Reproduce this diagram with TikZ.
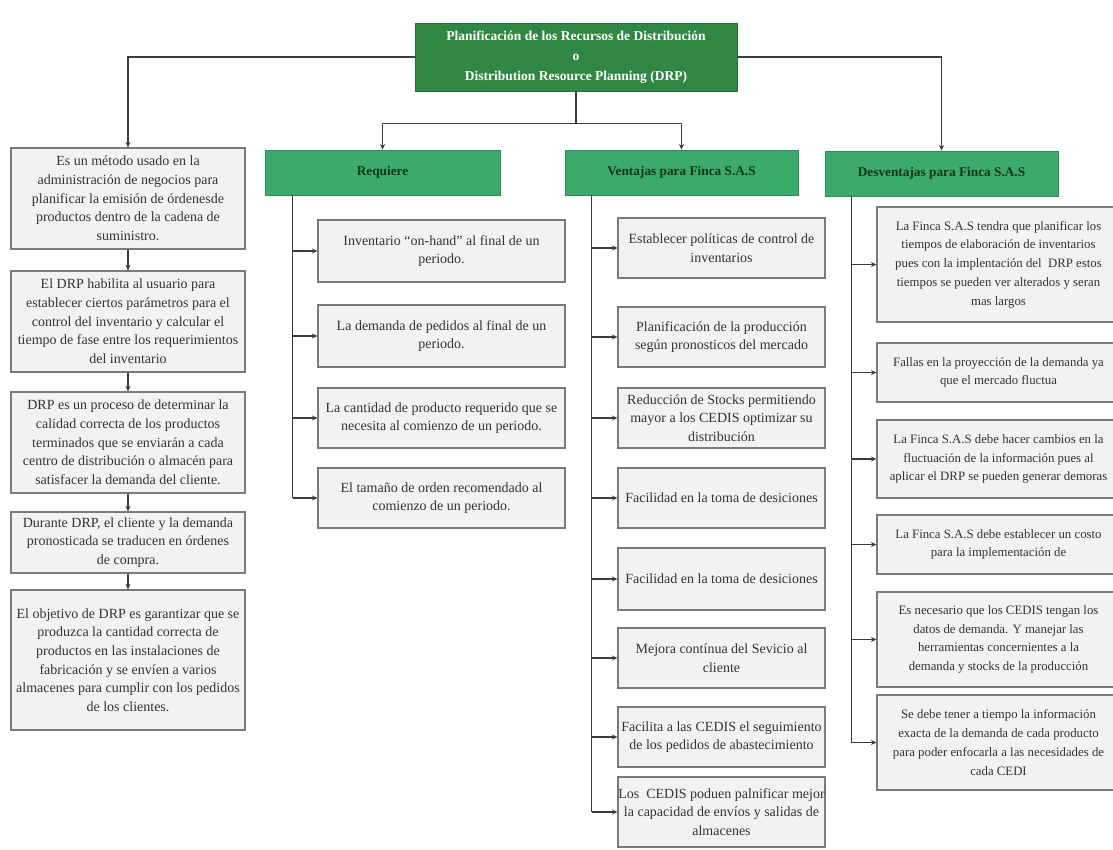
\documentclass[tikz,border=0pt]{standalone}
\usepackage{fontspec}
\setmainfont{Liberation Serif}
\usetikzlibrary{arrows.meta,calc}
\definecolor{rootgreen}{HTML}{2F8743}
\definecolor{headgreen}{HTML}{3BAA6B}
\definecolor{headtext}{HTML}{14361A}
\definecolor{boxfill}{HTML}{F2F2F2}
\definecolor{boxline}{HTML}{7A7A7A}
\definecolor{linecol}{HTML}{3C3C3C}
\definecolor{txt}{HTML}{333333}
\newcommand\pbox[7]{\node[#6, minimum width={#4pt-#2pt}, minimum height={#5pt-#3pt}] (#1) at ({(#2+#4)/2},{(#3+#5)/2}) {#7};}
\tikzset{
  rootbox/.style={draw=rootgreen!80!black, fill=rootgreen, line width=0.8pt, inner sep=0pt, align=center,
    text=white, font=\fontsize{13.5}{20}\selectfont\bfseries},
  headbox/.style={draw=headgreen!80!black, fill=headgreen, line width=0.8pt, inner sep=0pt, align=center,
    text=headtext, font=\fontsize{13.3}{16}\selectfont\bfseries},
  itembox/.style={draw=boxline, fill=boxfill, line width=1.1pt, inner sep=0pt, align=center,
    text=txt, font=\fontsize{14}{18.7}\selectfont},
  ditembox/.style={itembox, font=\fontsize{12.8}{18.7}\selectfont},
  conn/.style={draw=linecol, line width=1.1pt},
  arr/.style={conn, -{Stealth[length=5.5pt,width=5pt]}}
}
\begin{document}
\begin{tikzpicture}[x=1pt,y=-1pt]
\useasboundingbox (0,0) rectangle (1113,850);
\fill[white] (0,0) rectangle (1113,850);
% root
\pbox{root}{415}{23}{737}{91}{rootbox}{Planificación de los Recursos de Distribución\\o\\Distribution Resource Planning (DRP)}
% headers
\pbox{R}{265}{150}{500}{195}{headbox}{Requiere}
\pbox{V}{565}{150}{798}{195}{headbox}{Ventajas para Finca S.A.S}
\pbox{D}{825}{151}{1058}{196}{headbox}{Desventajas para Finca S.A.S}
% left column
\pbox{L1}{11}{148}{245}{249}{itembox}{Es un método usado en la\\administración de negocios para\\planificar la emisión de órdenesde\\productos dentro de la cadena de\\suministro.}
\pbox{L2}{11}{271}{245}{372}{itembox}{El DRP habilita al usuario para\\establecer ciertos parámetros para el\\control del inventario y calcular el\\tiempo de fase entre los requerimientos\\del inventario}
\pbox{L3}{11}{392}{245}{493}{itembox}{DRP es un proceso de determinar la\\calidad correcta de los productos\\terminados que se enviarán a cada\\centro de distribución o almacén para\\satisfacer la demanda del cliente.}
\pbox{L4}{11}{512}{245}{573}{itembox}{Durante DRP, el cliente y la demanda\\pronosticada se traducen en órdenes\\de compra.}
\pbox{L5}{11}{590}{245}{730}{itembox}{El objetivo de DRP es garantizar que se\\produzca la cantidad correcta de\\productos en las instalaciones de\\fabricación y se envíen a varios\\almacenes para cumplir con los pedidos\\de los clientes.}
% Requiere children
\pbox{R1}{318}{220}{565}{282}{itembox}{Inventario ``on-hand'' al final de un\\periodo.}
\pbox{R2}{318}{305}{565}{367}{itembox}{La demanda de pedidos al final de un\\periodo.}
\pbox{R3}{318}{388}{565}{448}{itembox}{La cantidad de producto requerido que se\\necesita al comienzo de un periodo.}
\pbox{R4}{318}{468}{565}{528}{itembox}{El tamaño de orden recomendado al\\comienzo de un periodo.}
% Ventajas children
\pbox{V1}{618}{218}{825}{278}{itembox}{Establecer políticas de control de\\inventarios}
\pbox{V2}{618}{307}{825}{367}{itembox}{Planificación de la producción\\según pronosticos del mercado}
\pbox{V3}{618}{388}{825}{448}{itembox}{Reducción de Stocks permitiendo\\mayor a los CEDIS optimizar su\\distribución}
\pbox{V4}{618}{468}{825}{528}{itembox}{Facilidad en la toma de desiciones}
\pbox{V5}{618}{548}{825}{610}{itembox}{Facilidad en la toma de desiciones}
\pbox{V6}{618}{628}{825}{688}{itembox}{Mejora contínua del Sevicio al\\cliente}
\pbox{V7}{618}{707}{825}{767}{itembox}{Facilita a las CEDIS el seguimiento\\de los pedidos de abastecimiento}
\pbox{V8}{618}{777}{825}{847}{itembox}{Los\ \ CEDIS poduen palnificar mejor\\la capacidad de envíos y salidas de\\almacenes}
% Desventajas children
\pbox{D1}{877}{207}{1120}{322}{ditembox}{La Finca S.A.S tendra que planificar los\\tiempos de elaboración de inventarios\\pues con la implentación del\ \ DRP estos\\tiempos se pueden ver alterados y seran\\mas largos}
\pbox{D2}{877}{343}{1120}{402}{ditembox}{Fallas en la proyección de la demanda ya\\que el mercado fluctua}
\pbox{D3}{877}{420}{1120}{498}{ditembox}{La Finca S.A.S debe hacer cambios en la\\fluctuación de la información pues al\\aplicar el DRP se pueden generar demoras}
\pbox{D4}{877}{515}{1120}{574}{ditembox}{La Finca S.A.S debe establecer un costo\\para la implementación de}
\pbox{D5}{877}{592}{1120}{687}{ditembox}{Es necesario que los CEDIS tengan los\\datos de demanda. Y manejar las\\herramientas concernientes a la\\demanda y stocks de la producción}
\pbox{D6}{877}{695}{1120}{790}{ditembox}{Se debe tener a tiempo la información\\exacta de la demanda de cada producto\\para poder enfocarla a las necesidades de\\cada CEDI}
% root connectors
\draw[arr] (root.west) -| (L1.north);
\draw[arr] (root.east) -| (D.north);
\coordinate (j) at ($(root.south)+(0,32)$);
\draw[conn] (root.south) -- (j);
\draw[arr] (j) -| (R.north);
\draw[arr] (j) -| (V.north);
% left chain
\draw[arr] (L1.south) -- (L2.north);
\draw[arr] (L2.south) -- (L3.north);
\draw[arr] (L3.south) -- (L4.north);
\draw[arr] (L4.south) -- (L5.north);
% Requiere trunk
\coordinate (rt) at ($(R.south west)+(28,0)$);
\draw[conn] (rt) -- (rt |- R4.west);
\foreach \c in {R1,R2,R3,R4} \draw[arr] (rt |- \c.west) -- (\c.west);
% Ventajas trunk
\coordinate (vt) at ($(V.south west)+(27,0)$);
\draw[conn] (vt) -- (vt |- V8.west);
\foreach \c in {V1,V2,V3,V4,V5,V6,V7,V8} \draw[arr] (vt |- \c.west) -- (\c.west);
% Desventajas trunk
\coordinate (dt) at ($(D.south west)+(27,0)$);
\draw[conn] (dt) -- (dt |- D6.west);
\foreach \c in {D1,D2,D3,D4,D5,D6} \draw[arr] (dt |- \c.west) -- (\c.west);
\end{tikzpicture}
\end{document}
